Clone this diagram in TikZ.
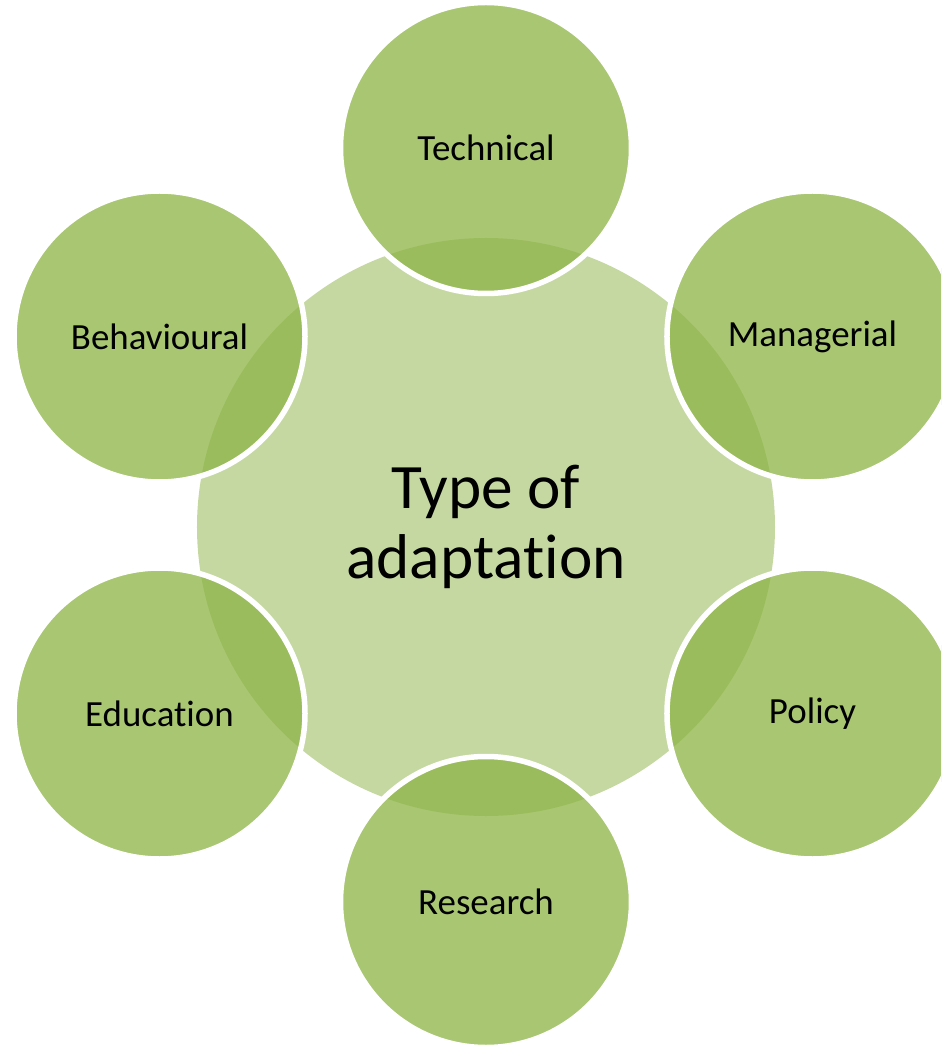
\documentclass[tikz,border=0pt]{standalone}
\usepackage{fontspec}
\setmainfont{Carlito}[Ligatures=NoCommon]
\usepackage{tikz}
\usetikzlibrary{positioning}

\definecolor{hubgreen}{RGB}{198,216,162}
\definecolor{leafgreen}{RGB}{142,180,70}

\newcommand\Ring{7.54}

\tikzset{
  hub/.style={
    shape = circle,
    minimum size = 11.56cm,
    inner sep = 0pt,
    fill = hubgreen,
    align = center,
    font = \fontsize{36}{40}\selectfont
  },
}
\tikzset{
  leaf/.style={
    shape = circle,
    minimum size = 5.82cm,
    inner sep = 0pt,
    fill = leafgreen,
    fill opacity = 0.76,
    text opacity = 1,
    draw = white,
    draw opacity = 1,
    line width = 0.11cm,
    font = \fontsize{21}{25}\selectfont
  },
}

\begin{document}
\begin{tikzpicture}
    \useasboundingbox (-9.72,-10.40) rectangle (9.10,10.50);
    \clip (-9.72,-10.40) rectangle (9.10,10.50);

    \node[hub] (hub) at (0,-0.04) {Type of\\adaptation};

    % six types round the hub
    \node[leaf] (technical)   at (90:\Ring)   {Technical};
    \node[leaf] (managerial)  at (30:\Ring)   {Managerial};
    \node[leaf] (policy)      at (-30:\Ring)  {Policy};
    \node[leaf] (research)    at (-90:\Ring)  {Research};
    \node[leaf] (education)   at (-150:\Ring) {Education};
    \node[leaf] (behavioural) at (150:\Ring)  {Behavioural};
\end{tikzpicture}
\end{document}
